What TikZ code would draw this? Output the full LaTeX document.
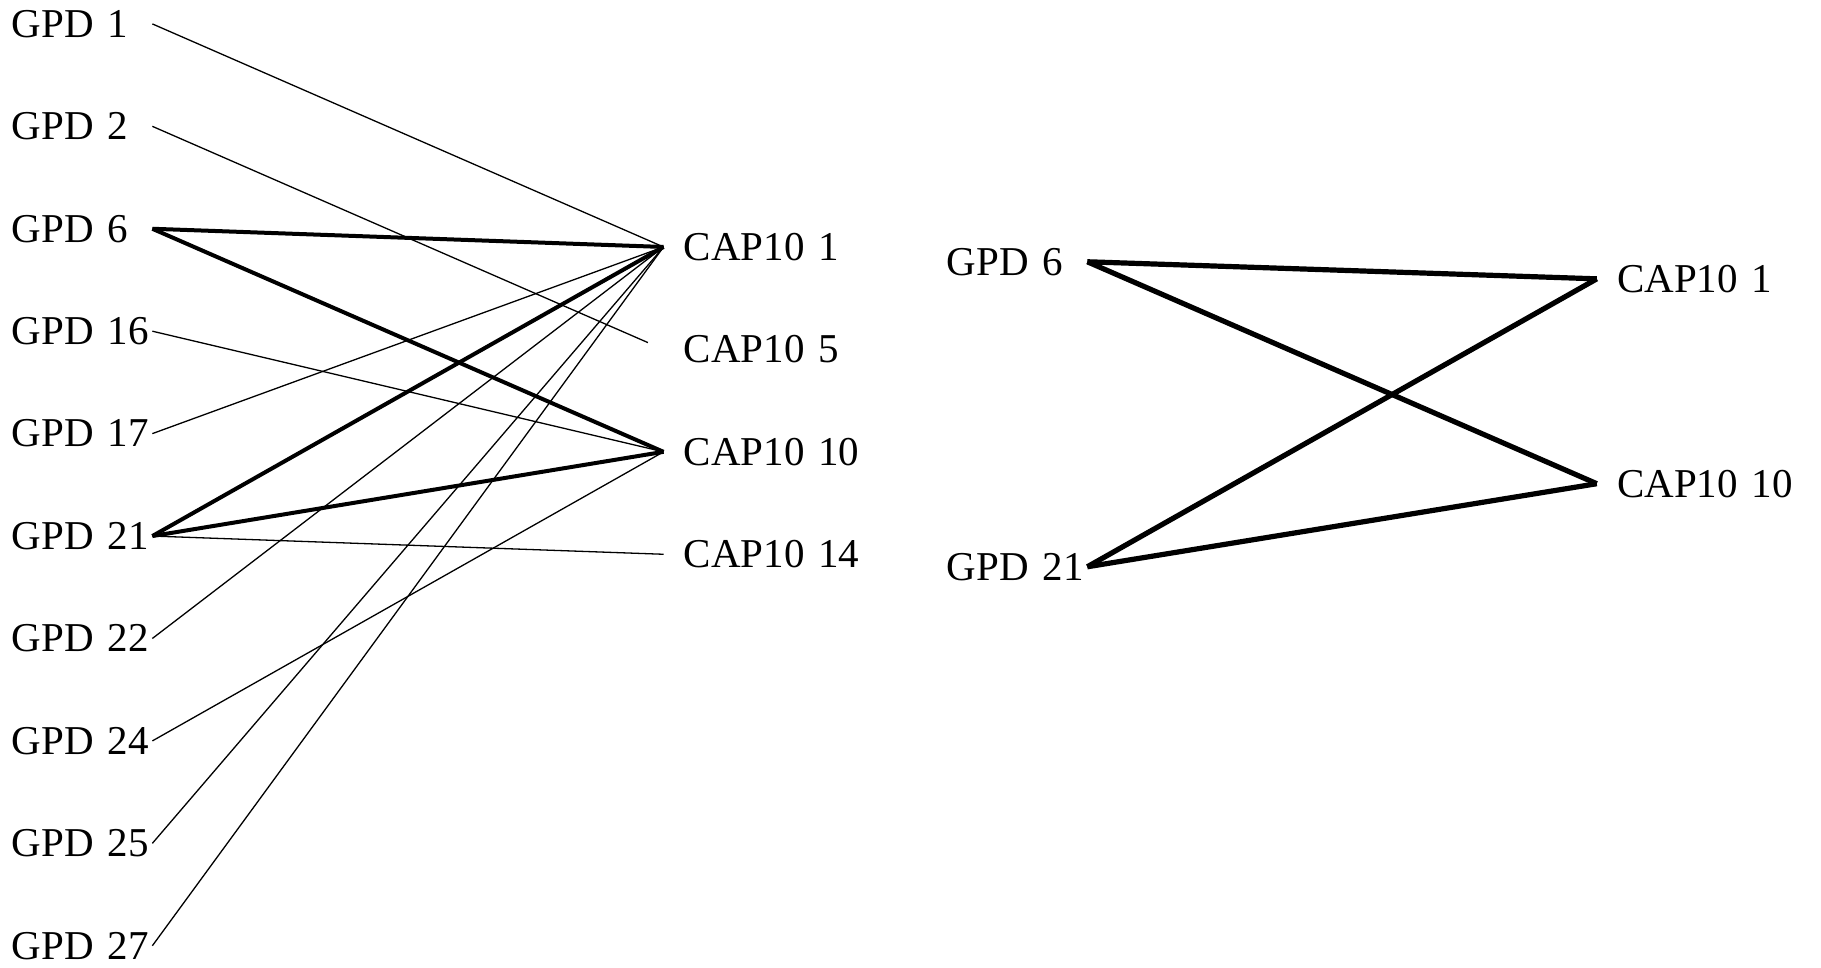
\documentclass[tikz,border=0pt]{standalone}
\usepackage{fontspec}
\setmainfont{Liberation Serif}

\tikzstyle{gpdbox} = [rectangle, text width=70pt, align=left, inner xsep=0pt, inner ysep=3pt, font=\fontsize{20.5}{24}\selectfont]
\tikzstyle{capbox} = [rectangle, text width=90pt, align=left, inner xsep=10pt, inner ysep=3pt, font=\fontsize{20.5}{24}\selectfont]
\tikzstyle{link} = [line width=0.65pt]
\tikzstyle{strong} = [line width=2pt]
\tikzstyle{bold} = [line width=2.6pt]

\begin{document}
\begin{tikzpicture}[node distance=1.8cm]
\useasboundingbox (0,0) rectangle (32cm,-17.01cm);
 %left group
\node (g1) [gpdbox] at (1.44,-0.42) {GPD 1};
\node (g2) [gpdbox, below of=g1] {GPD 2};
\node (g6) [gpdbox, below of=g2] {GPD 6};
\node (g16) [gpdbox, below of=g6] {GPD 16};
\node (g17) [gpdbox, below of=g16] {GPD 17};
\node (g21) [gpdbox, below of=g17] {GPD 21};
\node (g22) [gpdbox, below of=g21] {GPD 22};
\node (g24) [gpdbox, below of=g22] {GPD 24};
\node (g25) [gpdbox, below of=g24] {GPD 25};
\node (g27) [gpdbox, below of=g25] {GPD 27};

\node (c1) [capbox, right of=g6, xshift=10.36cm, yshift=-0.32cm] {CAP10 1};
\node (c5) [capbox, below of=c1] {CAP10 5};
\node (c10) [capbox, below of=c5] {CAP10 10};
\node (c14) [capbox, below of=c10] {CAP10 14};

 %right group
\node (r6) [gpdbox, right of=c1, xshift=2.47cm, yshift=-0.26cm] {GPD 6};
\node (r21) [gpdbox, below of=r6, yshift=-3.56cm] {GPD 21};
\node (r1) [capbox, right of=r6, xshift=10.33cm, yshift=-0.30cm] {CAP10 1};
\node (r10) [capbox, below of=r1, yshift=-1.8cm] {CAP10 10};

%GPD 1, 2
\draw [link](g1.east) -- (c1.west);
\draw [link, shorten >=8.5pt](g2.east) -- (c5.west);

%GPD 6
\draw [strong](g6.east) -- (c1.west);
\draw [strong](g6.east) -- (c10.west);

%GPD 16, 17
\draw [link](g16.east) -- (c10.west);
\draw [link](g17.east) -- (c1.west);

%GPD 21
\draw [strong](g21.east) -- (c1.west);
\draw [strong](g21.east) -- (c10.west);
\draw [link](g21.east) -- (c14.west);

%GPD 22 - 27
\draw [link](g22.east) -- (c1.west);
\draw [link](g24.east) -- (c10.west);
\draw [link](g25.east) -- (c1.west);
\draw [link](g27.east) -- (c1.west);

%right
\draw [bold](r6.east) -- (r1.west);
\draw [bold](r6.east) -- (r10.west);
\draw [bold](r21.east) -- (r1.west);
\draw [bold](r21.east) -- (r10.west);

\end{tikzpicture}
\end{document}
